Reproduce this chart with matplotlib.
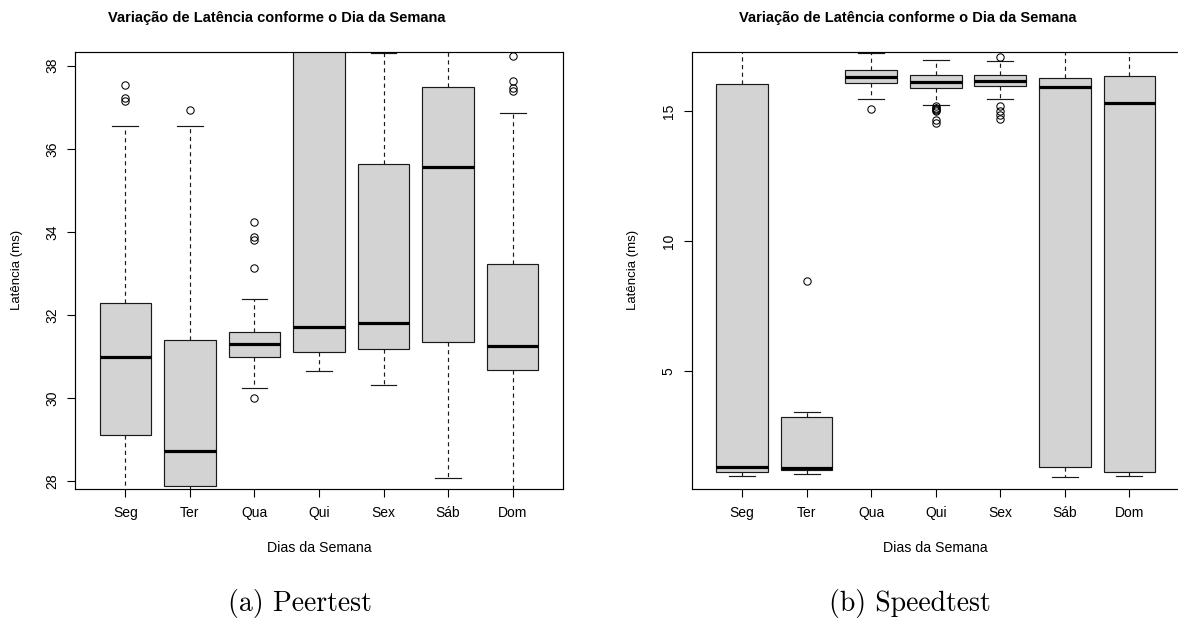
import matplotlib
matplotlib.use("Agg")
import matplotlib.pyplot as plt

plt.rcParams["font.family"] = ["Liberation Sans", "DejaVu Sans"]

days = ["Seg", "Ter", "Qua", "Qui", "Sex", "Sáb", "Dom"]

# Peertest latency summaries (ms): quartiles, whisker ends and outliers per weekday
peer_q1 = [29.10, 27.88, 30.99, 31.11, 31.19, 31.34, 30.67]
peer_med = [30.99, 28.72, 31.30, 31.72, 31.80, 35.57, 31.25]
peer_q3 = [32.28, 31.40, 31.60, 39.60, 35.63, 37.48, 33.22]
peer_lo = [27.20, 27.60, 30.25, 30.65, 30.31, 28.08, 27.20]
peer_hi = [36.54, 36.56, 32.38, 42.00, 38.30, 40.50, 36.87]
peer_out = [
    [37.53, 37.22, 37.14],
    [36.94],
    [34.24, 33.87, 33.80, 33.12, 30.00],
    [],
    [],
    [],
    [38.24, 37.62, 37.47, 37.40],
]

# Speedtest latency summaries (ms)
speed_q1 = [1.08, 1.16, 16.10, 15.90, 15.98, 1.27, 1.10]
speed_med = [1.30, 1.26, 16.34, 16.12, 16.18, 15.96, 15.32]
speed_q3 = [16.04, 3.20, 16.61, 16.39, 16.39, 16.30, 16.35]
speed_lo = [0.93, 1.00, 15.49, 15.23, 15.46, 0.91, 0.95]
speed_hi = [18.50, 3.39, 17.24, 17.00, 16.95, 18.50, 18.50]
speed_out = [
    [],
    [8.47],
    [15.09],
    [15.20, 15.15, 15.10, 15.05, 15.00, 14.68, 14.55],
    [17.10, 15.21, 15.03, 14.86, 14.69],
    [],
    [],
]

title = "Variação de Latência conforme o Dia da Semana"
W, H = 1178, 628
fig = plt.figure(figsize=(W / 100, H / 100), dpi=100)


def axes_px(left, top, right, bottom):
    return fig.add_axes([left / W, 1 - bottom / H, (right - left) / W, (bottom - top) / H])


def stats(q1, med, q3, lo, hi, out):
    return [
        dict(q1=a, med=m, q3=b, whislo=l, whishi=h, fliers=f, label=d)
        for a, m, b, l, h, f, d in zip(q1, med, q3, lo, hi, out, days)
    ]


def draw(ax, st, ylim, yticks):
    ax.bxp(
        st,
        positions=range(1, len(days) + 1),
        widths=0.8,
        capwidths=0.4,
        patch_artist=True,
        boxprops=dict(facecolor="#D3D3D3", edgecolor="#1a1a1a", linewidth=0.85),
        medianprops=dict(color="black", linewidth=2.3, solid_capstyle="butt"),
        whiskerprops=dict(color="#1a1a1a", linewidth=0.85, linestyle=(0, (3.5, 3))),
        capprops=dict(color="#1a1a1a", linewidth=0.85),
        flierprops=dict(marker="o", markerfacecolor="none", markeredgecolor="black",
                        markersize=5.3, markeredgewidth=0.75, linestyle="none"),
    )
    ax.set_xlim(0.22, 7.78)
    ax.set_ylim(*ylim)
    ax.set_yticks(yticks)
    ax.set_yticklabels([str(t) for t in yticks], rotation=90, va="center")
    ax.set_xticks(range(1, len(days) + 1), labels=days)
    ax.tick_params(axis="x", length=5.5, width=0.8, pad=7, labelsize=10)
    ax.tick_params(axis="y", length=5.5, width=0.8, pad=6, labelsize=10)
    for s in ax.spines.values():
        s.set_linewidth(0.85)
        s.set_color("black")


ax1 = axes_px(75, 52, 563, 489)
draw(ax1, stats(peer_q1, peer_med, peer_q3, peer_lo, peer_hi, peer_out),
     (27.81, 38.33), [28, 30, 32, 34, 36, 38])

ax2 = axes_px(691.7, 52.3, 1179.7, 489)
draw(ax2, stats(speed_q1, speed_med, speed_q3, speed_lo, speed_hi, speed_out),
     (0.44, 17.28), [5, 10, 15])


def ftext(x, y, s, **kw):
    fig.text(x / W, 1 - y / H, s, ha="center", va="center", **kw)


# panel titles, axis labels and captions
ftext(277, 18, title, fontsize=10.5, fontweight="bold")
ftext(908, 18, title, fontsize=10.5, fontweight="bold")
ftext(319, 548, "Dias da Semana", fontsize=10.2)
ftext(935, 548, "Dias da Semana", fontsize=10.2)
ftext(17, 270, "Latência (ms)", fontsize=9.5, rotation=90)
ftext(633, 270, "Latência (ms)", fontsize=9.5, rotation=90)
ftext(300, 604, "(a) Peertest", fontsize=20, family="cmr10")
ftext(910, 604, "(b) Speedtest", fontsize=20, family="cmr10")

fig.savefig("out.png", dpi=100)
